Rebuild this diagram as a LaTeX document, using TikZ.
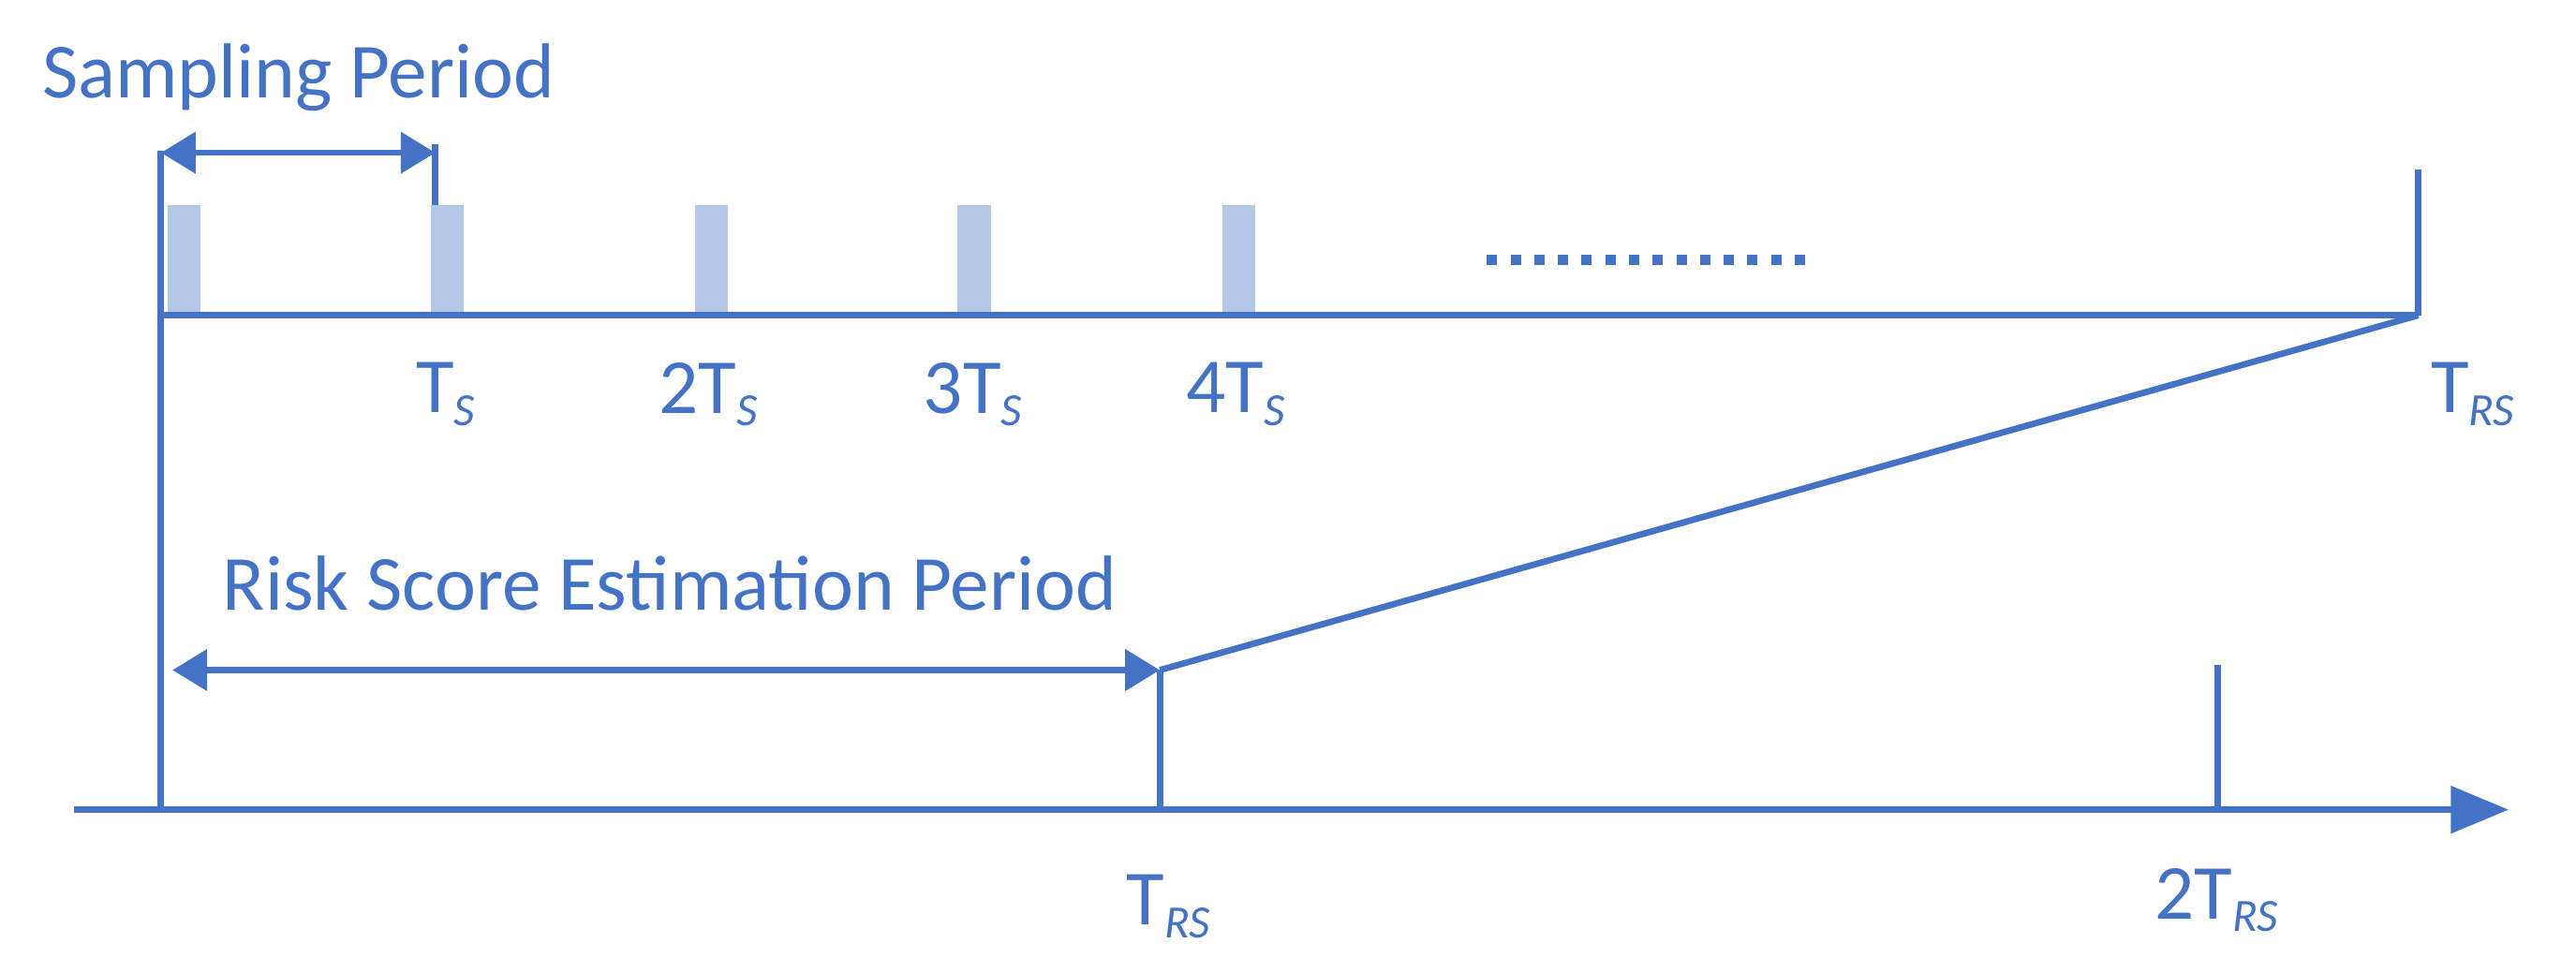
\documentclass[tikz,border=0pt]{standalone}
\usepackage{fontspec}
\setmainfont{Carlito}
\usetikzlibrary{arrows.meta}
\definecolor{bl}{HTML}{4472C4}
\definecolor{lbar}{HTML}{B4C7E7}
\tikzset{
  ln/.style={draw=bl,line width=1.1pt},
  dbl/.style={ln,{Triangle[length=6pt,width=7pt]}-{Triangle[length=6pt,width=7pt]}},
  bar/.style={fill=lbar,draw=none},
  lbl/.style={text=bl,font=\fontsize{13.5pt}{16pt}\selectfont,inner sep=0pt},
}
\newcommand{\sub}[1]{\textsubscript{\itshape\fontsize{8pt}{9pt}\selectfont #1}}
\begin{document}
\begin{tikzpicture}[x=0.01cm,y=-0.01cm]
\useasboundingbox (0,0) rectangle (1568,592);
% bars
\foreach \x [count=\i] in {102,262,423,583,744}{\fill[bar] (\x,125) rectangle ++(20,65);}
% coordinates
\coordinate (ltop) at (98,92);
\coordinate (lbot) at (98,493);
\coordinate (sp) at (265,93);
\coordinate (sptop) at (265,88);
\coordinate (spbot) at (265,125);
\coordinate (ub0) at (98,192);
\coordinate (ub1) at (1472,192);
\coordinate (utick) at (1472,103);
\coordinate (rs0) at (105,408);
\coordinate (rs1) at (706,408);
\coordinate (rsb) at (706,493);
\coordinate (ax0) at (45,493);
\coordinate (ax1) at (1527,493);
\coordinate (t2a) at (1350,405);
\coordinate (t2b) at (1350,493);
\coordinate (d0) at (905,158);
\coordinate (d1) at (1100,158);
% lines
\draw[ln] (ltop) -- (lbot);
\draw[dbl] (98,93) -- (sp);
\draw[ln] (sptop) -- (spbot);
\draw[ln] (ub0) -- (ub1);
\draw[ln] (utick) -- (ub1);
\draw[ln] (ub1) -- (rs1);
\draw[dbl] (rs0) -- (rs1);
\draw[ln] (rs1) -- (rsb);
\draw[ln,-{Triangle[length=10pt,width=8pt]}] (ax0) -- (ax1);
\draw[ln] (t2a) -- (t2b);
\draw[bl,line width=1.8pt,dash pattern=on 1.8pt off 2.3pt] (d0) -- (d1);
% labels
\node[lbl,anchor=west] (sampling) at (25,47) {Sampling Period};
\node[lbl,anchor=west] (rsep) at (135,355) {Risk Score Estimation Period};
\node[lbl] (l1) at (272,240) {T\sub{S}};
\node[lbl] (l2) at (432,240) {2T\sub{S}};
\node[lbl] (l3) at (593,240) {3T\sub{S}};
\node[lbl] (l4) at (753,240) {4T\sub{S}};
\node[lbl] (l5) at (1506,240) {T\sub{RS}};
\node[lbl] (l6) at (712,552) {T\sub{RS}};
\node[lbl] (l7) at (1350,548) {2T\sub{RS}};
\end{tikzpicture}
\end{document}
